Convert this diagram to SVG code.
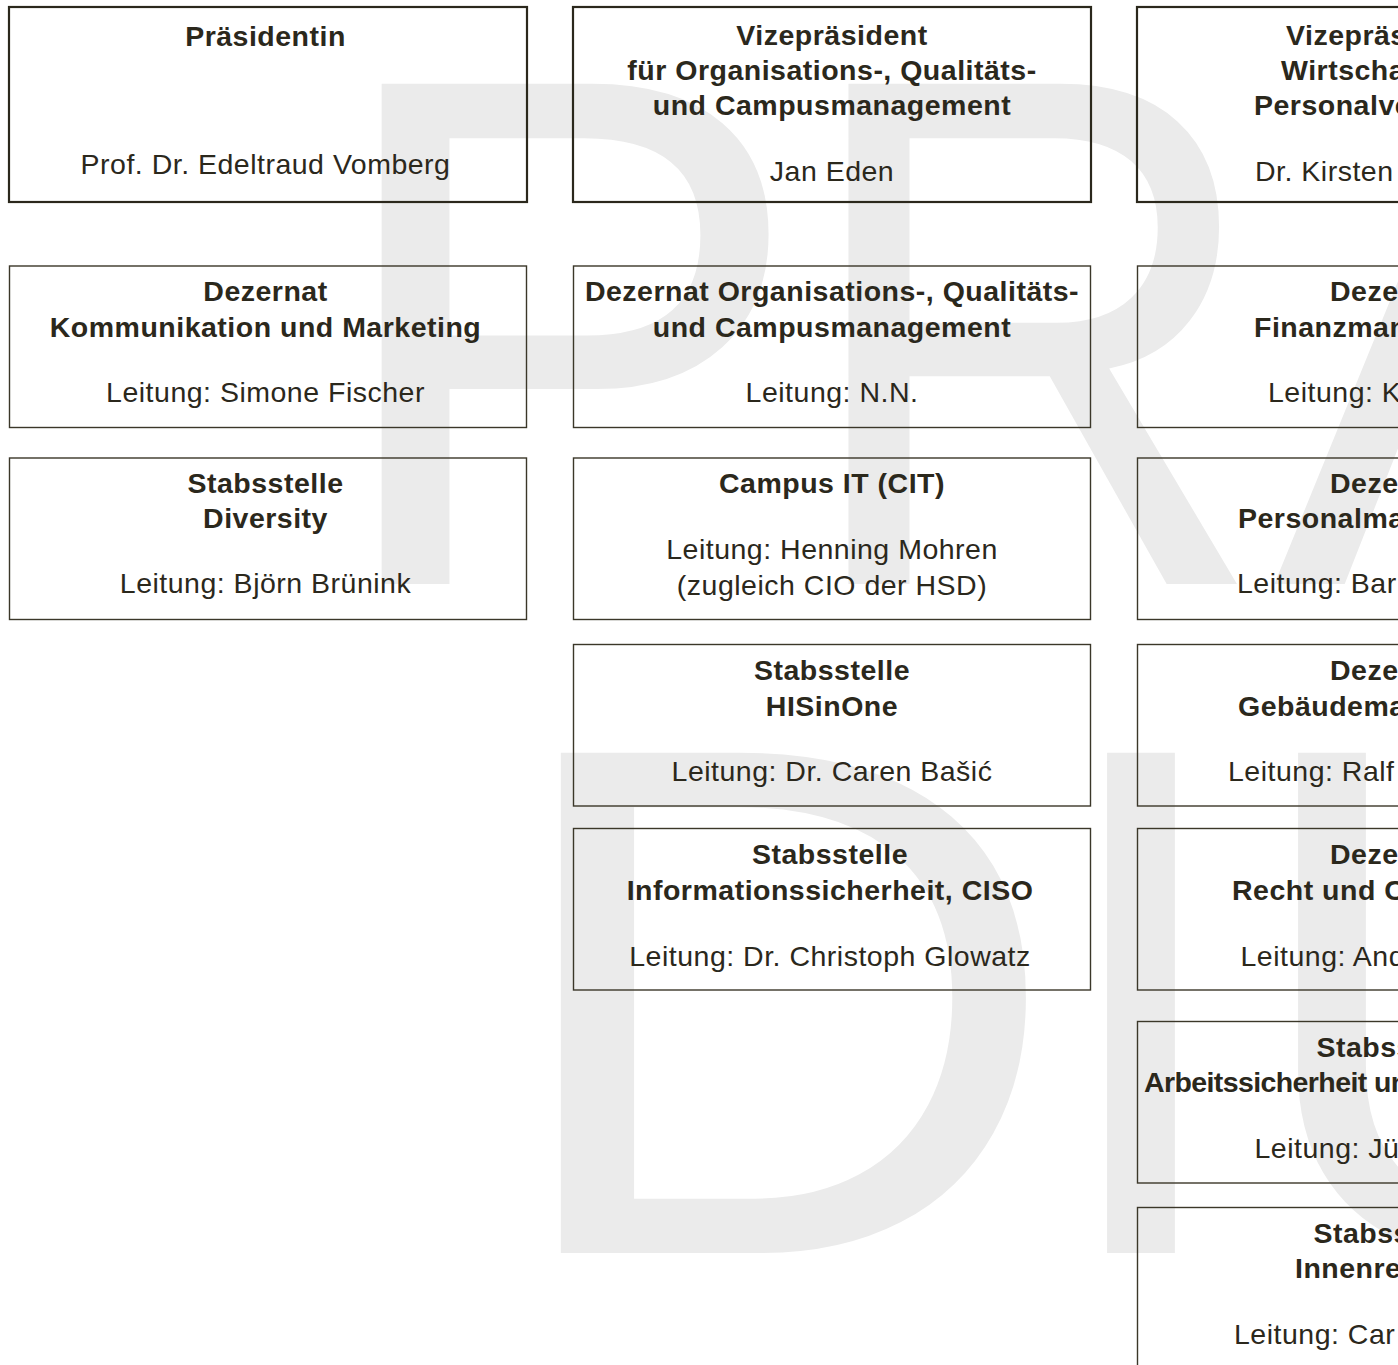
<svg xmlns="http://www.w3.org/2000/svg" width="1398" height="1365" viewBox="0 0 1398 1365">
<style>
.wm{font-family:"Liberation Sans",Arial,sans-serif;font-size:727px;fill:#ebebeb}
.box{fill:none;stroke:#3b3729;stroke-width:1.4}
.top{stroke:#2b281c;stroke-width:2.2}
.t{font-family:"Liberation Sans",Arial,sans-serif;font-size:28.5px;fill:#2b281c;letter-spacing:0.5px}
.b{font-weight:bold}
.c{text-anchor:middle}
</style>
<rect width="1398" height="1365" fill="#ffffff"/>
<g id="watermark">
<text class="wm" x="322" y="584">P</text>
<text class="wm" transform="translate(847,584) scale(0.9,1)" x="-58" y="0">R</text>
<text class="wm" x="1273" y="584">Ä</text>
<text class="wm" transform="translate(558,1253) scale(1.08,1)" x="-57" y="0">D</text>
<text class="wm" x="1040" y="1253">I</text>
<text class="wm" x="1242" y="1253">U</text>
</g>
<g id="connectors"></g>

<g id="praesidentin">
<rect class="box top" x="9" y="7" width="518" height="195"/>
<text class="t b c" x="265.5" y="46">Präsidentin</text>
<text class="t c" x="265.5" y="173.5">Prof. Dr. Edeltraud Vomberg</text>
</g>
<g id="vp-ocm">
<rect class="box top" x="573" y="7" width="518" height="195"/>
<text class="t b c" x="832" y="45">Vizepräsident</text>
<text class="t b c" x="832" y="80">für Organisations-, Qualitäts-</text>
<text class="t b c" x="832" y="115">und Campusmanagement</text>
<text class="t c" x="832" y="181">Jan Eden</text>
</g>
<g id="vp-wpv">
<rect class="box top" x="1137" y="7" width="519" height="195"/>
<text class="t b" x="1286" y="45">Vizepräsidentin</text>
<text class="t b" x="1281" y="80">Wirtschafts- und</text>
<text class="t b" x="1254" y="115">Personalverwaltung</text>
<text class="t" x="1255" y="181">Dr. Kirsten</text>
</g>

<g id="dez-km">
<rect class="box" x="9.5" y="266" width="517" height="161.5"/>
<text class="t b c" x="265.5" y="301">Dezernat</text>
<text class="t b c" x="265.5" y="337">Kommunikation und Marketing</text>
<text class="t c" x="265.5" y="402">Leitung: Simone Fischer</text>
</g>
<g id="stab-diversity">
<rect class="box" x="9.5" y="458" width="517" height="161.5"/>
<text class="t b c" x="265.5" y="492.5">Stabsstelle</text>
<text class="t b c" x="265.5" y="528">Diversity</text>
<text class="t c" x="265.5" y="593">Leitung: Björn Brünink</text>
</g>

<g id="dez-ocm">
<rect class="box" x="573.5" y="266" width="517" height="161.5"/>
<text class="t b c" x="832" y="301">Dezernat Organisations-, Qualitäts-</text>
<text class="t b c" x="832" y="337">und Campusmanagement</text>
<text class="t c" x="832" y="402">Leitung: N.N.</text>
</g>
<g id="cit">
<rect class="box" x="573.5" y="458" width="517" height="161.5"/>
<text class="t b c" x="832" y="492.5">Campus IT (CIT)</text>
<text class="t c" x="832" y="559">Leitung: Henning Mohren</text>
<text class="t c" x="832" y="594.5">(zugleich CIO der HSD)</text>
</g>
<g id="stab-hisinone">
<rect class="box" x="573.5" y="644.5" width="517" height="161.5"/>
<text class="t b c" x="832" y="679.5">Stabsstelle</text>
<text class="t b c" x="832" y="716">HISinOne</text>
<text class="t c" x="832" y="781">Leitung: Dr. Caren Bašić</text>
</g>
<g id="stab-ciso">
<rect class="box" x="573.5" y="828.5" width="517" height="161.5"/>
<text class="t b c" x="830" y="864">Stabsstelle</text>
<text class="t b c" x="830" y="900">Informationssicherheit, CISO</text>
<text class="t c" x="830" y="965.5">Leitung: Dr. Christoph Glowatz</text>
</g>

<g id="dez-finanz">
<rect class="box" x="1137.5" y="266" width="518" height="161.5"/>
<text class="t b" x="1330" y="301">Dezernat</text>
<text class="t b" x="1254" y="337">Finanzmanagement</text>
<text class="t" x="1268" y="402">Leitung: K</text>
</g>
<g id="dez-personal">
<rect class="box" x="1137.5" y="458" width="518" height="161.5"/>
<text class="t b" x="1330" y="492.5">Dezernat</text>
<text class="t b" x="1238" y="528">Personalmanagement</text>
<text class="t" x="1237" y="593">Leitung: Bar</text>
</g>
<g id="dez-gebaeude">
<rect class="box" x="1137.5" y="644.5" width="518" height="161.5"/>
<text class="t b" x="1330" y="679.5">Dezernat</text>
<text class="t b" x="1238" y="716">Gebäudemanagement</text>
<text class="t" x="1228" y="781">Leitung: Ralf</text>
</g>
<g id="dez-recht">
<rect class="box" x="1137.5" y="828.5" width="518" height="161.5"/>
<text class="t b" x="1330" y="864">Dezernat</text>
<text class="t b" x="1232" y="900">Recht und C</text>
<text class="t" x="1240.5" y="965.5">Leitung: And</text>
</g>
<g id="stab-arbeitssicherheit">
<rect class="box" x="1137.5" y="1021.5" width="518" height="161.5"/>
<text class="t b" x="1316.5" y="1056.5">Stabsstelle</text>
<text class="t b" x="1144" y="1092" style="letter-spacing:-0.6px">Arbeitssicherheit und</text>
<text class="t" x="1254.5" y="1157.5">Leitung: Jü</text>
</g>
<g id="stab-innenrevision">
<rect class="box" x="1137.5" y="1207.5" width="518" height="200"/>
<text class="t b" x="1313.5" y="1242.5">Stabsstelle</text>
<text class="t b" x="1295" y="1278">Innenrevision</text>
<text class="t" x="1234" y="1343.5">Leitung: Car</text>
</g>
</svg>
